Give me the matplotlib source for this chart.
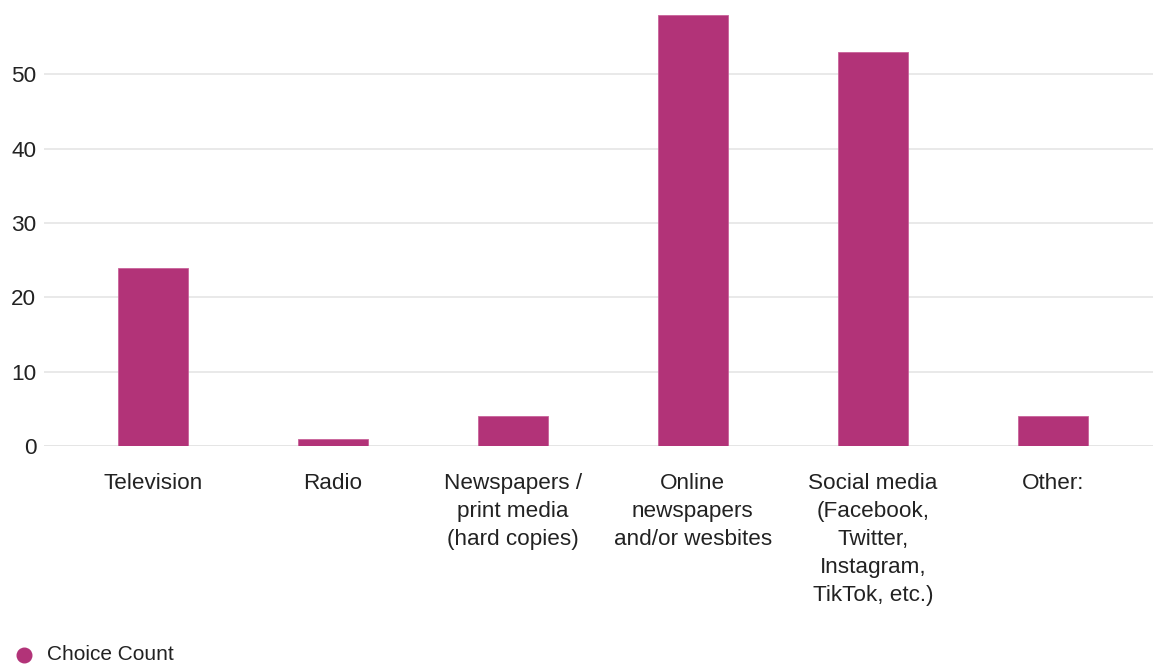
import matplotlib.pyplot as plt
from matplotlib.lines import Line2D

categories = ["Television", "Radio", "Newspapers /\nprint media\n(hard copies)",
              "Online\nnewspapers\nand/or wesbites",
              "Social media\n(Facebook,\nTwitter,\nInstagram,\nTikTok, etc.)",
              "Other:"]
counts = [24, 1, 4, 58, 53, 4]
yticks = [0, 10, 20, 30, 40, 50]

bar_color = "#b23378"
plt.rcParams['font.family'] = ['Liberation Sans', 'DejaVu Sans']

fig = plt.figure(figsize=(11.53, 6.65), dpi=100)
ax = fig.add_axes([0.0382, 0.3293, 0.9618, 0.6481])

x = list(range(len(categories)))
ax.bar(x, counts, width=0.39, color=bar_color, edgecolor="#c9639a", linewidth=0.6, zorder=3)

ax.set_xlim(-0.605, 5.556)
ax.set_ylim(0, 58)
ax.set_yticks(yticks)
ax.set_xticks(x)
ax.set_xticklabels(categories, fontsize=16.2, color="#222222", linespacing=1.43)
ax.tick_params(axis='x', length=0, pad=19.5)
ax.tick_params(axis='y', length=0, pad=5.5, labelsize=16.2, labelcolor="#222222")
ax.yaxis.grid(True, color="#e5e5e5", linewidth=1.2, zorder=0)
ax.axhline(0, color="#e5e5e5", linewidth=1.2, zorder=1)
for s in ax.spines.values():
    s.set_visible(False)

# legend
ly = 1 - 655 / 665
fig.add_artist(Line2D([24 / 1153], [ly], transform=fig.transFigure, marker='o',
                      linestyle='none', markersize=10.5, markerfacecolor=bar_color,
                      markeredgecolor=bar_color))
fig.text(47 / 1153, ly, "Choice Count", fontsize=15, color="#222222", va='center', ha='left')

fig.savefig("out.png", dpi=100)
